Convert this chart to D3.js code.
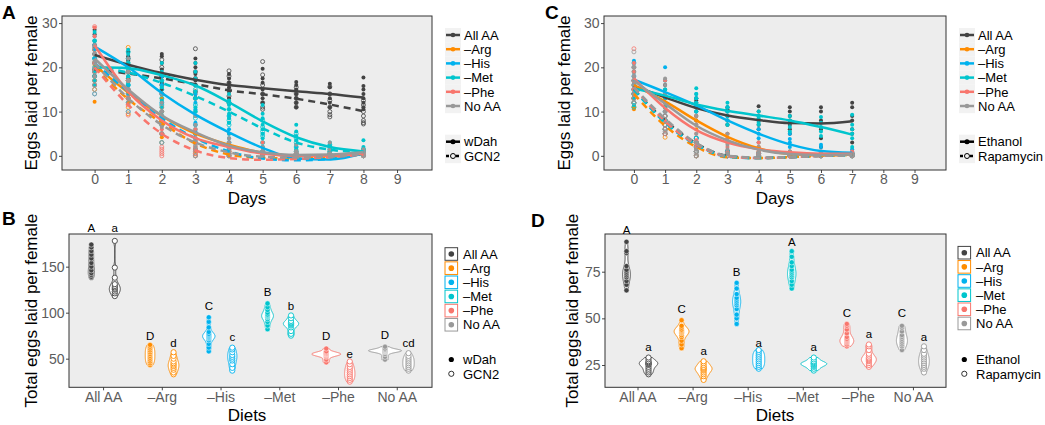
<!DOCTYPE html>
<html><head><meta charset="utf-8">
<script src="https://cdn.jsdelivr.net/npm/d3@7"></script>
<style>
body{margin:0;background:#fff}
svg{display:block}
text{font-family:"Liberation Sans",Arial,Helvetica,sans-serif}
</style>
</head><body>
<svg id="chart" width="1045" height="425"></svg>
<script>
// ---------------- DATA ----------------
const diets = ["All AA","–Arg","–His","–Met","–Phe","No AA"];
const dietColors = ["#434343","#FF8C00","#00B2EE","#00C5CD","#F8766D","#999999"];
const genoA = ["wDah","GCN2"];
const genoC = ["Ethanol","Rapamycin"];
const daysA = [0,1,2,3,4,5,6,7,8];
const daysC = [0,1,2,3,4,5,6,7];
const dayTicks = [0,1,2,3,4,5,6,7,8,9];
const eggTicks = [0,10,20,30];
const totalTicksB = [50,100,150];
const totalTicksD = [25,50,75];

// Panel A: eggs per female per day (one array per day)
const A_AllAA_w = [[28.5,27.5,26,24.5,23,21],[23.5,22.5,21.5,20,19,17.5,16],[23,22.5,21,19.5,18,16.5,15],[22,21,20,18.5,17,16,14],[18.5,17.5,16.5,15.5,14.5,13],[19.7,17.5,16.5,15,14,13,12],[16.7,16,15,14,13,12,11],[16.3,15.5,14,13,12,11],[17.7,15.8,15,14,13,12,11,10.5]];
const A_AllAA_g = [[25,23,21,19.5,18],[22,20.5,19,17,15,13],[21.7,20,18,16,14],[24.2,19,17.5,16,14.5,13],[19.2,18,16.5,15,13.5,12],[21.3,18.3,16,14,12,11,10.5],[15.5,14,13,12,11],[15.6,14,12.5,11,10,9.3,8.8],[12.5,11.5,10,9,8,7.5,7.2]];
const A_Arg_w = [[22,20.5,19,17,12.2],[21,18,16,14,12],[13,11,9,7,5,4.2],[9,7,5,3,1],[5,3,2,1,0],[2,1,0.5,0],[1,0.5,0],[1,0.5,0],[1.5,0.8,0]];
const A_Arg_g = [[24,21,19,17,15],[24.5,17,13,11,9.5],[10,7,5,3],[5,3,1.5,0.5,0],[2,1,0.5,0],[1,0.5,0],[0.5,0],[0.5,0],[1,0]];
const A_His_w = [[27,25,24,22,19,17],[22,20,18,16,14],[18,16,14,12,10,8],[14,12,10.5,9,7.5,5.5,3.5],[9,7.5,6,5,4,3,1.5],[5,3,2,1,0.5,0],[2,1,0.5,0],[1,0.5,0],[1.5,1,0.5,0]];
const A_His_g = [[25,22,19,16,14],[16,14,12,10],[12,9,7,5,3],[7,5,3,1.5,0],[3,1.5,0.5,0],[1,0.5,0],[0.5,0],[0.5,0],[1,0]];
const A_Met_w = [[28,26,23,21,19,17,16],[24,23,22,21,19.5,18,16.5],[21,19,17,15.5,14,12.5,11],[21,19,17.5,16,14.5,13,11,10],[14,12.5,11.5,10.5,9.5,8.5,7.5],[11.5,9.5,8.5,7,6,5,4],[7,5.5,4.5,3.5,2.5,1.5],[3,2.5,2,1.5,1,0.5],[3.5,2,1.5,1,0.5]];
const A_Met_g = [[26,24,22,20,18,16],[23.5,21,19,17.5,16],[17,15,13,11.5,10],[15,13,11.5,10,8.5],[12,10.5,9,8,7],[8,6.5,5.5,4.5,3],[5,4,3,2,1],[2.5,2,1.5,1,0.5],[1.5,1,0.5,0]];
const A_Phe_w = [[29,27,25,23,21],[19,17,15,13],[10,8,6,5],[6,4,3,1.5],[3,2,1,0.5],[3,1,0.5,0],[0.5,0],[0.5,0],[0.5,0]];
const A_Phe_g = [[29.2,24,21,19,16],[17,13,11.5,9.2],[5,2,1.5,1,0.5,0],[2,1,0.5,0],[1,0.5,0],[0.5,0],[0.5,0],[0],[0.5,0]];
const A_NoAA_w = [[25,23,21.5,20,18],[22,19,17,15,13],[14,12,10,8,6.5],[9,7,5,3.5,2],[4,3,2,1,0.5],[2,1,0.5,0],[2.5,1,0.5,0],[3,1.5,0.5,0],[1.5,1,0.5,0]];
const A_NoAA_g = [[23,21,19,17,15,14],[20,17,14,12,10],[11,9,7,5,3],[6,4,2.5,1,0],[2,1,0.5,0],[1,0.5,0],[1,0.5,0],[1,0.5,0],[1,0.5,0]];

// Panel A: fitted curves (values at each day)
const fitA_AllAA = [[22.8,20.6,18.7,17.2,16.0,15.3,14.6,14.0,13.2],[19.5,18.6,17.5,16.2,14.8,13.9,12.9,11.6,10.1]];
const fitA_Arg = [[20.5,14.3,9.0,5.0,2.5,0.7,0,0,0.5],[20,12.8,7.5,2.8,0.3,-0.5,-0.6,-0.3,0.4]];
const fitA_His = [[24.7,20.0,14.2,9.3,5.3,1.8,-0.6,-0.8,0.6],[21,14.5,8.5,4.0,1.0,-0.6,-1.0,-0.7,0.5]];
const fitA_Met = [[20.0,19.8,18.2,15.9,12.1,7.8,4.2,2.0,1.0],[20.2,18.8,16.5,13.5,10,6.2,3.0,1.4,0.8]];
const fitA_Phe = [[25,14.5,8.0,4.0,2.0,0.5,0,0,0.5],[20,11.5,5.0,1.2,-0.5,-0.9,-0.7,-0.3,0.3]];
const fitA_NoAA = [[22,15,9.1,5.3,2.3,0.8,0.2,0.3,0.8],[21,13,7,3,0.8,-0.2,-0.4,-0.2,0.5]];

// Panel C
const C_AllAA_e = [[19,17,16,15,14,13],[16,14,13,12,11],[13,12.5,12,11,10,9,8],[11,10.5,10,9,8,7],[11.2,10,9,8,7,6],[11,10,9,8,7,6,5],[11,10,8,6,4,2],[12,11,9,8,6,5,3]];
const C_AllAA_r = [[17,15,14,13,12],[9,8,7,6,5],[4,3,2,1,0],[1,0.5,0],[0.5,0],[0.5,0],[0.5,0],[0.5,0]];
const C_Arg_e = [[19,17,15,13,11,10.5],[15,13,12,11,10],[11,9,8,7,6],[7,5,4,3],[3,2,1,0.5],[1,0.5,0],[0.5,0],[0.5,0]];
const C_Arg_r = [[16,14,13,12,11],[8,7,6,5,4.2],[3,2,1,0],[0.5,0],[0],[0],[0],[0]];
const C_His_e = [[21.5,20,18,16,14],[20,17,15,14,13],[14,13,12,11,10],[11,10,9,8,7],[8,6,5,4,3],[5,3.8,3,2,1],[2.5,2,1,0.5],[1.5,1,0.5]];
const C_His_r = [[21,18,16,14,12],[10,8,7,6,5],[4,3,2,1],[1,0.5,0],[0.5,0],[0.5,0],[0.5,0],[0.5,0]];
const C_Met_e = [[21,19,17,15,13,11.5],[17,15,14,12,11],[15.3,14,13,12,11,10],[12,11,10,9,8,7],[10,9,8.5,7.5,7],[9,8,7.5,6.5,5.5],[8.8,7.5,6.5,5.5,4.5],[9.3,7,6,5,4,2]];
const C_Met_r = [[20,17,15,13,11],[9,8,7,6],[4,3,2,1,0],[1,0.5,0],[0.5,0],[0],[0],[0.5,0]];
const C_Phe_e = [[21,19,18,17,15],[17,14,12,10,8],[9,7,5,3.5,2],[5,4,3,2,1],[3,2,1,0.5],[1,0.5,0],[1,0.5,0],[1,0.5,0]];
const C_Phe_r = [[24.2,20,17,15,13],[9,7,6,5],[3,2,1,0],[0.5,0],[0.5,0],[0],[0],[0.5,0]];
const C_NoAA_e = [[20,18,17,16,14],[17.5,16,14,12,10],[9,7,5,3,1.5],[5,3.5,2.5,1.5,0.5],[2,1,0.5,0],[1,0.5,0],[0.5,0],[0.5,0]];
const C_NoAA_r = [[23.5,19,16,14,12],[10,9,8,7,5.5],[3,2,1,0.5,0],[0.5,0],[0],[0],[0],[0]];

const fitC_AllAA = [[15.8,13.2,10.8,9.1,8.1,7.4,7.3,7.8],[15,8,2.8,0,-0.5,-0.3,0,0.3]];
const fitC_Arg = [[16,12.3,8.0,4.3,1.7,0.4,0.1,0.3],[14,6.8,2.0,-0.3,-0.5,-0.3,0,0.2]];
const fitC_His = [[17.2,14.4,11.4,8.0,5.0,2.6,1.1,0.7],[15,7.5,2.5,-0.2,-0.5,-0.3,0,0.2]];
const fitC_Met = [[15.2,13.6,11.6,10.2,9.1,8.0,6.5,4.8],[15,7.6,2.6,-0.1,-0.5,-0.3,0,0.2]];
const fitC_Phe = [[17.5,10.8,5.8,3.0,1.5,0.8,0.5,0.5],[15.5,7.8,2.6,-0.1,-0.5,-0.3,0,0.2]];
const fitC_NoAA = [[17,11.8,6.8,3.5,1.4,0.4,0.2,0.3],[15.5,8.4,2.9,0,-0.4,-0.3,0,0.2]];

// Panel B: total eggs per female
const B_AllAA = [[174,171,167,163,159,154,150,146,143,141,139,138],[178,149,138,131,129,127.5,126,125,123,121,118]];
const B_Arg = [[65,63,61,59,57,55,53,51,49,47,45,43],[57,53,50,47,45,43.5,42,40,38,35,33]];
const B_His = [[95,90,84,79,77,76,75,74,73,72,70,66,62,58],[62,60,57,54,52,50,48,44,40,37]];
const B_Met = [[110,106,103,100,98,97,96,95,93,90,86,82],[97,94,91,89.5,88.5,88,87,86,84,80,77,75]];
const B_Phe = [[61,58,57,56,55.5,55,54.5,54,53,52,49,46],[47,44,41,39,37,35,33,31,29,27,25]];
const B_NoAA = [[63,61,60,59.5,59,58.5,58,57.5,57,55,52,49],[56,53,51,49,47,45,43,41,39,37]];
const lettersB = [["A","D","C","B","D","D"],["a","d","c","b","e","cd"]];
const letterPosB = [[192,75,107,123,75,75.5],[192,67,74,107.6,55,67]];

// Panel D
const D_AllAA = [[91,86,85,78,76,75,74,73,72,70,68,65],[29,28,27,26.5,26,25.7,25.5,25,24,23,22,21,20]];
const D_Arg = [[49,46,45,44,43.5,43,42.5,42,41,40,38,36,34],[27,26,25,24,23.5,23,22.5,22,21,20,19,17]];
const D_His = [[69,66,63,61,60,59,58,57,55,52,50,47],[33,32,31,30,29,28,27,26,25,24,23]];
const D_Met = [[86,83,80,78,76,75,74,73,72,70,68,66],[29,28,27,26.5,26,25.7,25.5,25,24.5,24,23,22]];
const D_Phe = [[47,46,44,42,40,39,38.5,38,37.5,37,36,35],[36,35,33,31,30,29,28.5,28,27.5,27,26,25,24]];
const D_NoAA = [[46,45,43,41,40,39,38,37,36,35,33],[35,33,31,30,29,28,27,26,25,24,23,21]];
const lettersD = [["A","C","B","A","C","C"],["a","a","a","a","a","a"]];
const letterPosD = [[97.3,54.9,75,91,52.7,52.7],[34.8,32.7,37,34.8,41.5,40.2]];

// ---------------- DRAWING ----------------
const svg = d3.select("#chart");
svg.append("rect").attr("width",1045).attr("height",425).attr("fill","#fff");
const PANEL_BG = "#EDEDED", BORDER = "#333", TICKTXT = "#5c5c5c";

function styleAxis(ax){
  ax.select(".domain").remove();
  ax.selectAll(".tick line").attr("stroke",BORDER).attr("stroke-width",0.9);
  ax.selectAll(".tick text").attr("fill",TICKTXT).attr("font-size",14)
    .attr("font-family",'"Liberation Sans",Arial,sans-serif');
}

function frame(P, id){
  svg.append("rect").attr("x",P.left).attr("y",P.top).attr("width",P.right-P.left)
    .attr("height",P.bottom-P.top).attr("fill",PANEL_BG);
  svg.append("clipPath").attr("id",id).append("rect").attr("x",P.left).attr("y",P.top)
    .attr("width",P.right-P.left).attr("height",P.bottom-P.top);
  return svg.append("g").attr("clip-path",`url(#${id})`);
}
function border(P){
  svg.append("rect").attr("x",P.left).attr("y",P.top).attr("width",P.right-P.left)
    .attr("height",P.bottom-P.top).attr("fill","none").attr("stroke",BORDER).attr("stroke-width",1);
}
function titles(P){
  svg.append("text").attr("x",P.letterX).attr("y",P.letterY).text(P.letter)
    .attr("font-size",19).attr("font-weight","bold").attr("fill","#000");
  svg.append("text").attr("x",P.xTitleX).attr("y",P.xTitleY).attr("text-anchor","middle")
    .attr("font-size",17).attr("fill","#000").text(P.xTitle);
  svg.append("text").attr("transform",`translate(${P.yTitleX},${(P.top+P.bottom)/2}) rotate(-90)`)
    .attr("text-anchor","middle").attr("font-size",17).attr("fill","#000").text(P.yTitle);
}

function timePanel(P){
  const x = d3.scaleLinear().domain(P.xDomain).range([P.left,P.right]);
  const y = d3.scaleLinear().domain(P.yDomain).range([P.bottom,P.top]);
  const plot = frame(P, "clip"+P.letter);
  P.points.forEach((pair,i)=>pair.forEach((byDay,k)=>{
    const flat = byDay.flatMap((vals,d)=>vals.map(v=>({d:P.days[d],v})));
    plot.append("g").selectAll("circle").data(flat).join("circle")
      .attr("cx",p=>x(p.d)).attr("cy",p=>y(p.v)).attr("r",2)
      .attr("fill",k===0?dietColors[i]:"none")
      .attr("stroke",dietColors[i]).attr("stroke-width",k===0?0:0.8);
  }));
  const line = d3.line().x((v,j)=>x(P.days[j])).y(v=>y(v)).curve(d3.curveMonotoneX);
  P.fits.forEach((pair,i)=>pair.forEach((vals,k)=>{
    plot.append("path").attr("d",line(vals)).attr("fill","none")
      .attr("stroke",dietColors[i]).attr("stroke-width",2.5)
      .attr("stroke-dasharray",k?"7,5":null);
  }));
  border(P);
  const ax = svg.append("g").attr("transform",`translate(0,${P.bottom})`)
    .call(d3.axisBottom(x).tickValues(dayTicks).tickSize(3).tickPadding(1.5).tickFormat(d3.format("d")));
  styleAxis(ax);
  const ay = svg.append("g").attr("transform",`translate(${P.left},0)`)
    .call(d3.axisLeft(y).tickValues(eggTicks).tickSize(3).tickPadding(1.5).tickFormat(d3.format("d")));
  styleAxis(ay);
  titles(P);
  const L = svg.append("g");
  diets.forEach((d,i)=>{
    const cy = P.legTop + i*14.2;
    L.append("rect").attr("x",P.legX-1).attr("y",cy-7).attr("width",16).attr("height",14.2).attr("fill","#F2F2F2");
    L.append("line").attr("x1",P.legX).attr("x2",P.legX+14).attr("y1",cy).attr("y2",cy)
      .attr("stroke",dietColors[i]).attr("stroke-width",2.5);
    L.append("circle").attr("cx",P.legX+7).attr("cy",cy).attr("r",2.3).attr("fill",dietColors[i]);
    L.append("text").attr("x",P.legX+18).attr("y",cy+4.7).attr("font-size",13).attr("fill","#000").text(d);
  });
  P.geno.forEach((g,k)=>{
    const cy = P.genoTop + k*14.3;
    L.append("rect").attr("x",P.legX-1).attr("y",cy-7).attr("width",16).attr("height",14.2).attr("fill","#F2F2F2");
    L.append("line").attr("x1",P.legX).attr("x2",P.legX+14).attr("y1",cy).attr("y2",cy)
      .attr("stroke","#000").attr("stroke-width",2.5).attr("stroke-dasharray",k?"3,2":null);
    L.append("circle").attr("cx",P.legX+7).attr("cy",cy).attr("r",2.5)
      .attr("fill",k?"#F2F2F2":"#000").attr("stroke","#000").attr("stroke-width",k?1:0);
    L.append("text").attr("x",P.legX+18).attr("y",cy+4.7).attr("font-size",13).attr("fill","#000").text(g);
  });
}

function bwNrd0(s){
  const sd = d3.deviation(s);
  const iqr = d3.quantile(s,0.75)-d3.quantile(s,0.25);
  let lo = Math.min(sd, iqr/1.34);
  if(!(lo>0)) lo = sd || 1;
  return 0.9*lo*Math.pow(s.length,-0.2);
}

function violinPanel(P){
  const x = d3.scaleLinear().domain(P.xDomain).range([P.left,P.right]);
  const y = d3.scaleLinear().domain(P.yDomain).range([P.bottom,P.top]);
  const plot = frame(P, "clip"+P.letter);
  const groups = [];
  P.values.forEach((pair,i)=>pair.forEach((vals,k)=>{
    const s = vals.slice().sort(d3.ascending);
    const bw = bwNrd0(s);
    const lo = s[0], hi = s[s.length-1];
    const ys = d3.range(0,121).map(t=>lo+(hi-lo)*t/120);
    const dens = ys.map(yy=>d3.mean(s,v=>Math.exp(-0.5*((yy-v)/bw)**2))/(bw*Math.sqrt(2*Math.PI)));
    groups.push({i,k,s,pts:ys.map((yy,j)=>[yy,dens[j]]),cx:i+(k?0.2:-0.2)});
  }));
  const maxD = d3.max(groups,g=>d3.max(g.pts,p=>p[1]));
  const w = d3.scaleLinear().domain([0,maxD]).range([0,P.maxHalf]);
  groups.forEach(g=>{
    const cx = x(g.cx);
    const area = d3.area().y(p=>y(p[0])).x0(p=>cx-w(p[1])).x1(p=>cx+w(p[1]));
    plot.append("path").attr("d",area(g.pts)).attr("fill","#fff")
      .attr("stroke",dietColors[g.i]).attr("stroke-width",1);
    plot.append("g").selectAll("circle").data(g.s).join("circle")
      .attr("cx",cx).attr("cy",v=>y(v)).attr("r",2.6)
      .attr("fill",g.k?"#fff":dietColors[g.i])
      .attr("stroke",g.k?dietColors[g.i]:"#fff").attr("stroke-width",g.k?0.9:0.5);
  });
  border(P);
  P.letters.forEach((row,k)=>row.forEach((t,i)=>{
    svg.append("text").attr("x",x(i+(k?0.2:-0.2))).attr("y",y(P.letterPos[k][i])).attr("dy","0.35em")
      .attr("text-anchor","middle").attr("font-size",11.5)
      .attr("font-family",'"Open Sans","Liberation Sans",sans-serif').attr("fill","#000").text(t);
  }));
  const ax = svg.append("g").attr("transform",`translate(0,${P.bottom})`)
    .call(d3.axisBottom(x).tickValues(d3.range(diets.length)).tickSize(3).tickPadding(1.5).tickFormat(i=>diets[i]));
  styleAxis(ax);
  const ay = svg.append("g").attr("transform",`translate(${P.left},0)`)
    .call(d3.axisLeft(y).tickValues(P.yTicks).tickSize(3).tickPadding(1.5).tickFormat(d3.format("d")));
  styleAxis(ay);
  titles(P);
  const L = svg.append("g");
  diets.forEach((d,i)=>{
    const cy = P.legTop + i*14.15;
    L.append("rect").attr("x",P.legX).attr("y",cy-6.3).attr("width",12.6).attr("height",12.6)
      .attr("fill","#fff").attr("stroke",dietColors[i]).attr("stroke-width",1);
    L.append("circle").attr("cx",P.legX+6.3).attr("cy",cy).attr("r",2.8).attr("fill",dietColors[i]);
    L.append("text").attr("x",P.legX+18).attr("y",cy+4.7).attr("font-size",13).attr("fill","#000").text(d);
  });
  P.geno.forEach((g,k)=>{
    const cy = P.genoTop + k*14.3;
    L.append("circle").attr("cx",P.legX+6.3).attr("cy",cy).attr("r",2.6)
      .attr("fill",k?"#fff":"#000").attr("stroke","#000").attr("stroke-width",k?0.8:0);
    L.append("text").attr("x",P.legX+18).attr("y",cy+4.7).attr("font-size",13).attr("fill","#000").text(g);
  });
}

timePanel({letter:"A",letterX:2,letterY:18.5,left:62,right:432,top:16,bottom:170,
  xDomain:[-0.97,10.04],yDomain:[-3.2,31.6],days:daysA,
  points:[[A_AllAA_w,A_AllAA_g],[A_Arg_w,A_Arg_g],[A_His_w,A_His_g],[A_Met_w,A_Met_g],[A_Phe_w,A_Phe_g],[A_NoAA_w,A_NoAA_g]],
  fits:[fitA_AllAA,fitA_Arg,fitA_His,fitA_Met,fitA_Phe,fitA_NoAA],
  geno:genoA,legX:446,legTop:35,genoTop:141.7,
  xTitle:"Days",xTitleX:247,xTitleY:204,yTitle:"Eggs laid per female",yTitleX:37});

timePanel({letter:"C",letterX:545,letterY:18.5,left:604,right:946,top:16,bottom:170,
  xDomain:[-0.96,10.01],yDomain:[-3.2,31.6],days:daysC,
  points:[[C_AllAA_e,C_AllAA_r],[C_Arg_e,C_Arg_r],[C_His_e,C_His_r],[C_Met_e,C_Met_r],[C_Phe_e,C_Phe_r],[C_NoAA_e,C_NoAA_r]],
  fits:[fitC_AllAA,fitC_Arg,fitC_His,fitC_Met,fitC_Phe,fitC_NoAA],
  geno:genoC,legX:960,legTop:35,genoTop:141.7,
  xTitle:"Days",xTitleX:775,xTitleY:204,yTitle:"Eggs laid per female",yTitleX:569.5});

violinPanel({letter:"B",letterX:2,letterY:225,left:69,right:432,top:234,bottom:387.3,
  xDomain:[-0.58,5.6],yDomain:[18.9,185.5],yTicks:totalTicksB,maxHalf:16.5,
  values:[B_AllAA,B_Arg,B_His,B_Met,B_Phe,B_NoAA],letters:lettersB,letterPos:letterPosB,
  geno:genoA,legX:445,legTop:254,genoTop:359.5,
  xTitle:"Diets",xTitleX:247,xTitleY:420.5,yTitle:"Total eggs laid per female",yTitleX:37});

violinPanel({letter:"D",letterX:531,letterY:226.5,left:605,right:946,top:234,bottom:387.3,
  xDomain:[-0.59,5.6],yDomain:[13.05,95.2],yTicks:totalTicksD,maxHalf:13,
  values:[D_AllAA,D_Arg,D_His,D_Met,D_Phe,D_NoAA],letters:lettersD,letterPos:letterPosD,
  geno:genoC,legX:958,legTop:252.7,genoTop:359.5,
  xTitle:"Diets",xTitleX:775,xTitleY:420.5,yTitle:"Total eggs laid per female",yTitleX:578});
</script>
</body></html>
